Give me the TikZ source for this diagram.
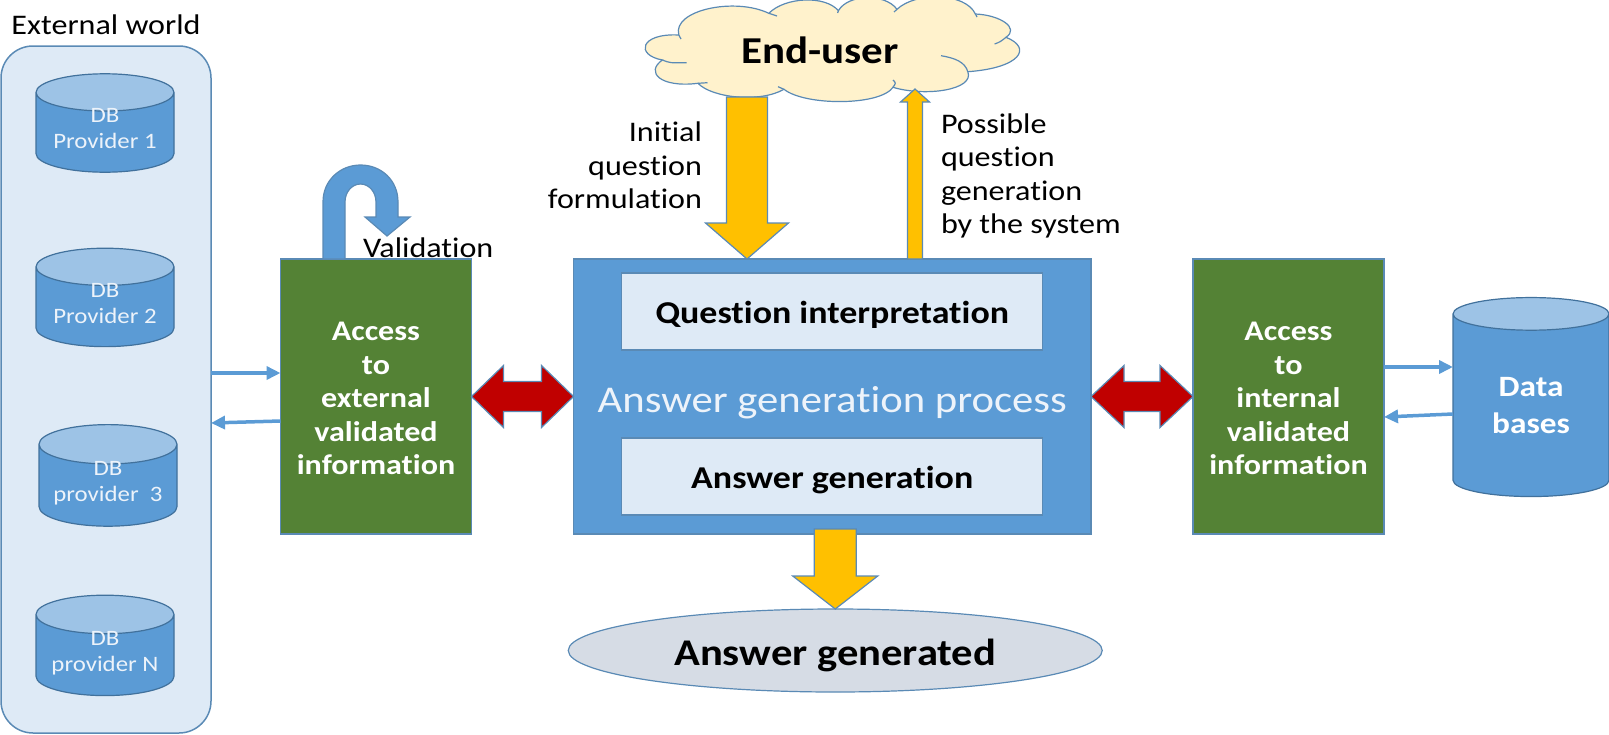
\documentclass[tikz,border=0pt]{standalone}
\usepackage{fontspec}
\setmainfont{Carlito}[FakeStretch=1.13, Ligatures=NoCommon]
\usetikzlibrary{shapes.geometric, arrows.meta, positioning, calc}
\definecolor{boxblue}{HTML}{5B9BD5}
\definecolor{edgeblue}{HTML}{5A8AB5}
\definecolor{dbedge}{HTML}{41719C}
\definecolor{paleblue}{HTML}{DEEAF6}
\definecolor{softwhite}{HTML}{EDF3FA}
\definecolor{midblue}{HTML}{9DC3E6}
\definecolor{boxgreen}{HTML}{548235}
\definecolor{boxred}{HTML}{C00000}
\definecolor{boxyellow}{HTML}{FFC000}
\definecolor{cloudfill}{HTML}{FFF2CC}
\definecolor{ovalfill}{HTML}{D6DCE5}

% style, tail, tip, half shaft, half head, head length
\newcommand{\blockarrow}[6]{
    \coordinate (hb) at ($(#3)!#6!(#2)$);
    \draw [#1] ($(#2)!#4!90:(#3)$) -- ($(hb)!#4!90:(#3)$) -- ($(hb)!#5!90:(#3)$) -- (#3) -- ($(hb)!#5!-90:(#3)$) -- ($(hb)!#4!-90:(#3)$) -- ($(#2)!#4!-90:(#3)$) -- cycle;
}
% style, first tip, second tip, half shaft, half head, head length
\newcommand{\twowayarrow}[6]{
    \coordinate (ha) at ($(#2)!#6!(#3)$);
    \coordinate (hb) at ($(#3)!#6!(#2)$);
    \draw [#1] (#2) -- ($(ha)!#5!90:(#3)$) -- ($(ha)!#4!90:(#3)$) -- ($(hb)!#4!90:(#3)$) -- ($(hb)!#5!90:(#3)$) -- (#3) -- ($(hb)!#5!-90:(#3)$) -- ($(hb)!#4!-90:(#3)$) -- ($(ha)!#4!-90:(#3)$) -- ($(ha)!#5!-90:(#3)$) -- cycle;
}

\begin{document}
\begin{tikzpicture}[x=1pt, y=-1pt, >=Latex, every node/.style={outer sep=0pt, inner sep=0pt}]
    \tikzstyle{plaintext} = [text=black, align=center, font=\fontsize{28.4}{33.5}\selectfont]
    \tikzstyle{dbstack} = [cylinder, shape border rotate=90, aspect=0.36, draw=dbedge, line width=1.2pt, cylinder uses custom fill, cylinder body fill=boxblue, cylinder end fill=midblue, minimum width=138pt, minimum height=96pt, text=softwhite, align=center, font=\fontsize{22}{26}\selectfont]
    \tikzstyle{providerdb} = [dbstack, text height=37pt, text depth=5pt]
    \tikzstyle{greenbox} = [rectangle, draw=edgeblue, fill=boxgreen, minimum width=191pt, minimum height=275pt, text=white, align=center, line width=1.2pt, text height=163pt, text depth=7pt, font=\bfseries\fontsize{28.4}{33.5}\selectfont]
    \tikzstyle{palebox} = [rectangle, draw=edgeblue, fill=paleblue, minimum width=421pt, minimum height=77pt, text=black, align=center, line width=1.2pt, text height=31pt, text depth=7pt, font=\bfseries\fontsize{31.8}{36}\selectfont]
    \tikzstyle{yellowarrow} = [draw=edgeblue, fill=boxyellow, line width=1.2pt]
    \tikzstyle{redarrow} = [draw=edgeblue, fill=boxred, line width=1.2pt]
    \tikzstyle{link} = [draw=boxblue, line width=3.5pt, -{Triangle[length=14pt, width=13pt]}]

    \useasboundingbox (0,0) rectangle (1609,734);

    \node [rectangle, rounded corners=32pt, draw=edgeblue, fill=paleblue, line width=1.5pt, minimum width=210pt, minimum height=687pt] (world) at (106,389.5) {};
    \node [plaintext, above=11pt of world] (worldtitle) {External world};

    \node [providerdb, anchor=shape center] (db1) at (105,123) {DB\\Provider 1};
    \node [providerdb, below=76pt of db1] (db2) {DB\\Provider 2};
    \node [providerdb, below=78pt of db2, xshift=3pt] (db3) {DB\\provider\ \ 3};
    \node [providerdb, below=69pt of db3, xshift=-3pt] (dbn) {DB\\provider N};

    \node [greenbox] (access) at (376,396.5) {Access\\to\\external\\validated\\information};
    \node [rectangle, draw=edgeblue, fill=boxblue, minimum width=517.5pt, minimum height=275pt, line width=1.2pt, right=102pt of access] (main) {};
    \node [greenbox, right=102pt of main] (inner) {Access\\to\\internal\\validated\\information};
    \node [dbstack, aspect=0.42, minimum width=156pt, minimum height=199pt, right=69pt of inner, yshift=-9pt, text=white, text height=57pt, font=\bfseries\fontsize{29.5}{37}\selectfont] (data) {Data\\bases};

    \node [palebox, below=14pt of main.north] (interp) {Question interpretation};
    \node [palebox, above=19pt of main.south] (gen) {Answer generation};
    \node [text=softwhite, yshift=-6pt, font=\fontsize{37.8}{40}\selectfont] (process) at (main) {Answer generation process};

    \node [ellipse, draw=edgeblue, fill=ovalfill, line width=1.2pt, minimum width=534pt, minimum height=83pt, below=75pt of main, xshift=3pt, text height=38pt, text depth=8pt, font=\bfseries\fontsize{37.7}{40}\selectfont] (result) {Answer generated};

    % cloud outline
    \draw [draw=edgeblue, fill=cloudfill, line width=1.2pt] (678.8,35) .. controls (672,10) and (735,-3) .. (768.8,13.3) .. controls (785,-3) and (825,-5) .. (838.4,10.7) .. controls (848,-6) and (885,-7) .. (897,9.3) .. controls (915,-8) and (965,-8) .. (975.4,14) .. controls (1000,15) and (1020,28) .. (1006,37.3) .. controls (1033,48) and (1020,68) .. (967.8,71.7) .. controls (975,90) and (925,97) .. (893,87.3) .. controls (880,106) and (805,106) .. (784,89.3) .. controls (760,103) and (712,98) .. (698,83.3) .. controls (660,88) and (645,72) .. (662.4,60) .. controls (635,55) and (640,33) .. (678.8,35) -- cycle;
    \draw [draw=edgeblue, line width=1.2pt] (678.8,35) -- (681,39) (768.8,13.3) -- (777,16) (838.4,10.7) -- (837.6,13) (897,9.3) -- (894,12) (975.4,14) -- (977,17);
    \draw [draw=edgeblue, line width=1.2pt] (1006,37.3) .. controls (1000,42) .. (994.6,44) (967.8,71.7) .. controls (965,62) and (955,58) .. (941,55.7) (893,87.3) .. controls (896,83) .. (893,80) (784,89.3) -- (778,86.7) (698,83.3) -- (707.5,82.7) (662.4,60) .. controls (670,63) .. (686.5,62.7);
    \node [font=\bfseries\fontsize{38}{40}\selectfont] (user) at (820,50) {End-user};

    \node [plaintext, align=right, anchor=east] (asklabel) at (702,165.5) {Initial\\question\\formulation};
    \node [plaintext, align=left, anchor=west] (replylabel) at (941,176) {Possible\\question\\generation\\by the system};
    \node [plaintext, anchor=west] (checklabel) at (363,248) {Validation};

    % yellow arrows
    \coordinate (asktail) at (747,97);
    \coordinate (replytip) at (915,89);
    \blockarrow{yellowarrow}{asktail}{asktail |- main.north}{20.5pt}{41.5pt}{36pt}
    \blockarrow{yellowarrow}{replytip |- main.north}{replytip}{7.5pt}{14.5pt}{13pt}
    \blockarrow{yellowarrow}{$(result.north)+(0,-80)$}{result.north}{21pt}{42.5pt}{33pt}

    % red arrows
    \twowayarrow{redarrow}{access.east}{main.west}{15pt}{31pt}{32pt}
    \twowayarrow{redarrow}{main.east}{inner.west}{15pt}{31pt}{33pt}

    % thin arrows
    \draw [link] ([yshift=16.5pt]world.east) -- ([yshift=23.5pt]access.west);
    \draw [link] ([yshift=-24.5pt]access.west) -- ([yshift=-33.5pt]world.east);
    \draw [link] ([yshift=29.5pt]inner.east) -- ([yshift=29.5pt]inner.east -| data.west);
    \draw [link] ([yshift=-17.5pt]inner.east -| data.west) -- ([yshift=-20.5pt]inner.east);

    % validation loop
    \begin{scope}[shift={(access.north)}]
        \draw [draw=edgeblue, fill=boxblue, line width=1.2pt] (-53,0) -- (-53,-57) .. controls (-53,-79) and (-35.5,-94) .. (-15.5,-94) .. controls (5,-94) and (22,-79) .. (22,-57) -- (22,-42) -- (34,-42) -- (11,-23) -- (-11,-42) -- (0,-42) -- (0,-57) .. controls (0,-67) and (-7,-75) .. (-15.5,-75) .. controls (-24,-75) and (-31,-67) .. (-31,-57) -- (-31,0) -- cycle;
    \end{scope}
\end{tikzpicture}
\end{document}
